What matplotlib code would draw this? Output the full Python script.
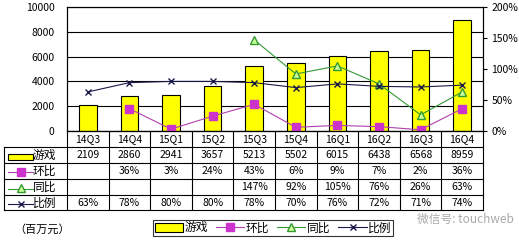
import matplotlib
matplotlib.use("Agg")
from matplotlib import pyplot as plt
from matplotlib.lines import Line2D
from matplotlib.patches import Rectangle
import numpy as np

plt.rcParams['font.family'] = ['Noto Sans CJK SC', 'DejaVu Sans']

# data
quarters = ['14Q3', '14Q4', '15Q1', '15Q2', '15Q3', '15Q4', '16Q1', '16Q2', '16Q3', '16Q4']
games = [2109, 2860, 2941, 3657, 5213, 5502, 6015, 6438, 6568, 8959]
qoq = [np.nan, 36, 3, 24, 43, 6, 9, 7, 2, 36]
yoy = [np.nan, np.nan, np.nan, np.nan, 147, 92, 105, 76, 26, 63]
share = [63, 78, 80, 80, 78, 70, 76, 72, 71, 74]
row_names = ['游戏', '环比', '同比', '比例']

W, H = 519, 242
FS = 7.5
c_bar = '#FFFF00'
c_qoq, c_qoq_m = '#B040B0', '#CC33CC'
c_yoy, c_yoy_m = '#339933', '#CCFF99'
c_share = '#1A1A4A'

fig = plt.figure(figsize=(W / 100, H / 100), dpi=100)
left, right, top, bottom = 67, 483, 7, 131
ax = fig.add_axes([left / W, 1 - bottom / H, (right - left) / W, (bottom - top) / H])

x = np.arange(len(quarters))
ax.bar(x, games, width=0.42, color=c_bar, edgecolor='black', linewidth=0.8, zorder=2)
ax.set_xlim(-0.5, len(quarters) - 0.5)
ax.set_ylim(0, 10000)
ax.set_yticks(range(0, 10001, 2000))
ax.yaxis.grid(True, color='black', linewidth=0.8)
ax.set_axisbelow(True)
ax.set_xticks([])
ax.tick_params(axis='y', length=0, pad=9, labelsize=FS)
for s in ax.spines.values():
    s.set_linewidth(0.8)

ax2 = ax.twinx()
ax2.set_ylim(0, 200)
ax2.set_yticks(range(0, 201, 50))
ax2.set_yticklabels([f'{v}%' for v in range(0, 201, 50)])
ax2.tick_params(axis='y', length=3, pad=3, labelsize=FS)
ax2.plot(x, qoq, color=c_qoq, lw=0.8, marker='s', ms=6, mfc=c_qoq_m, mec=c_qoq_m, zorder=3)
ax2.plot(x, yoy, color=c_yoy, lw=0.8, marker='^', ms=5.5, mfc=c_yoy_m, mec=c_yoy, zorder=3)
ax2.plot(x, share, color=c_share, lw=0.8, marker='x', ms=4.5, mec=c_share, zorder=3)

# overlay in pixel coordinates for the data table
ov = fig.add_axes([0, 0, 1, 1], facecolor='none')
ov.set_xlim(0, W)
ov.set_ylim(H, 0)
ov.axis('off')

col_w = (right - left) / len(quarters)
rows_y = [131, 147, 163, 179, 195, 210]
tl = 4
kw = dict(color='black', lw=0.8)
ov.add_line(Line2D([left, right], [rows_y[0], rows_y[0]], **kw))
for yy in rows_y[1:]:
    ov.add_line(Line2D([tl, right], [yy, yy], **kw))
for i in range(len(quarters) + 1):
    xx = left + col_w * i
    ov.add_line(Line2D([xx, xx], [rows_y[0], rows_y[-1]], **kw))
ov.add_line(Line2D([tl, tl], [rows_y[1], rows_y[-1]], **kw))

def fmt_pct(v):
    return '' if np.isnan(v) else f'{int(v)}%'

cells = [quarters, [str(v) for v in games], [fmt_pct(v) for v in qoq],
         [fmt_pct(v) for v in yoy], [fmt_pct(v) for v in share]]
for r, vals in enumerate(cells):
    yc = (rows_y[r] + rows_y[r + 1]) / 2
    for i, t in enumerate(vals):
        ov.text(left + col_w * (i + 0.5), yc, t, ha='center', va='center', fontsize=FS)

# row labels with key icons
for r, name in enumerate(row_names):
    yc = (rows_y[r + 1] + rows_y[r + 2]) / 2
    ov.text(33, yc + 0.5, name, ha='left', va='center', fontsize=8.5)
    if r == 0:
        ov.add_patch(Rectangle((8, yc - 1), 25, 6, facecolor=c_bar, edgecolor='black', lw=0.8))
    elif r == 1:
        ov.plot([8, 33], [yc + 1, yc + 1], color=c_qoq, lw=0.8)
        ov.plot([20.5], [yc + 1], marker='s', ms=6, mfc=c_qoq_m, mec=c_qoq_m)
    elif r == 2:
        ov.plot([8, 33], [yc + 2, yc + 2], color=c_yoy, lw=0.8)
        ov.plot([20.5], [yc + 1], marker='^', ms=5.5, mfc=c_yoy_m, mec=c_yoy)
    else:
        ov.plot([8, 33], [yc + 1, yc + 1], color=c_share, lw=0.8)
        ov.plot([20.5], [yc + 1], marker='x', ms=4.5, mec=c_share)

ov.text(14, 229, '（百万元）', ha='left', va='center', fontsize=8)
ov.text(465, 219, '微信号: touchweb', ha='center', va='center', fontsize=8.5, color='#AAAAAA')

# bottom legend
handles = [Rectangle((0, 0), 1, 1, facecolor=c_bar, edgecolor='black', lw=0.8),
           Line2D([], [], color=c_qoq, lw=0.8, marker='s', ms=6, mfc=c_qoq_m, mec=c_qoq_m),
           Line2D([], [], color=c_yoy, lw=0.8, marker='^', ms=5.5, mfc=c_yoy_m, mec=c_yoy),
           Line2D([], [], color=c_share, lw=0.8, marker='x', ms=4.5, mec=c_share)]
leg = fig.legend(handles, row_names, loc='center', bbox_to_anchor=(273 / W, 1 - 228 / H),
                 ncol=4, fontsize=8.5, frameon=True, fancybox=False, edgecolor='black',
                 handlelength=2.4, handletextpad=0.1, columnspacing=0.7, borderpad=0.15,
                 borderaxespad=0)
leg.get_frame().set_linewidth(0.8)

fig.savefig('out.png', dpi=100)
